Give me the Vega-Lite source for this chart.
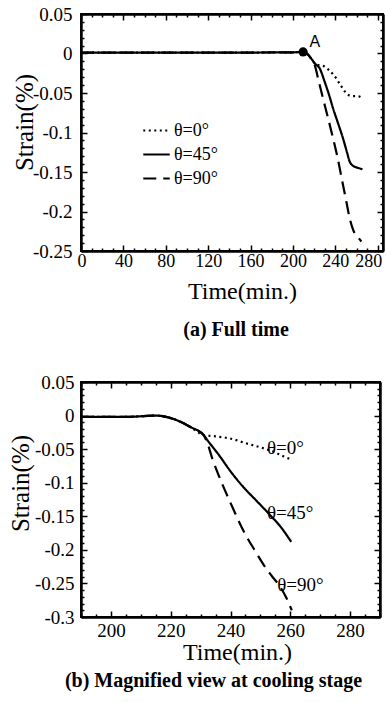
{
  "$schema": "https://vega.github.io/schema/vega-lite/v6.json",
  "background": "white",
  "padding": {"left": 7, "top": 4, "right": 0, "bottom": 0},
  "spacing": 31,
  "datasets": {
    "a": [
      {"series": "θ=0°", "t": 0, "s": 0.001}, {"series": "θ=0°", "t": 100, "s": 0.001}, {"series": "θ=0°", "t": 200, "s": 0.0015}, {"series": "θ=0°", "t": 209.6, "s": 0.002},
      {"series": "θ=0°", "t": 213, "s": 0.0}, {"series": "θ=0°", "t": 217, "s": -0.006}, {"series": "θ=0°", "t": 221, "s": -0.013}, {"series": "θ=0°", "t": 225, "s": -0.015},
      {"series": "θ=0°", "t": 229, "s": -0.016}, {"series": "θ=0°", "t": 234, "s": -0.021}, {"series": "θ=0°", "t": 239, "s": -0.028}, {"series": "θ=0°", "t": 244, "s": -0.038},
      {"series": "θ=0°", "t": 249, "s": -0.048}, {"series": "θ=0°", "t": 253, "s": -0.053}, {"series": "θ=0°", "t": 257, "s": -0.054}, {"series": "θ=0°", "t": 261, "s": -0.054},
      {"series": "θ=0°", "t": 265, "s": -0.056},
      {"series": "θ=45°", "t": 0, "s": 0.001}, {"series": "θ=45°", "t": 100, "s": 0.001}, {"series": "θ=45°", "t": 200, "s": 0.0015}, {"series": "θ=45°", "t": 209.6, "s": 0.002},
      {"series": "θ=45°", "t": 213, "s": 0.0}, {"series": "θ=45°", "t": 217, "s": -0.006}, {"series": "θ=45°", "t": 221, "s": -0.013}, {"series": "θ=45°", "t": 225.3, "s": -0.019},
      {"series": "θ=45°", "t": 230, "s": -0.036}, {"series": "θ=45°", "t": 234, "s": -0.052}, {"series": "θ=45°", "t": 237.9, "s": -0.0696}, {"series": "θ=45°", "t": 242, "s": -0.086},
      {"series": "θ=45°", "t": 247.3, "s": -0.1076}, {"series": "θ=45°", "t": 251, "s": -0.125}, {"series": "θ=45°", "t": 253.6, "s": -0.137}, {"series": "θ=45°", "t": 256, "s": -0.1415},
      {"series": "θ=45°", "t": 258.3, "s": -0.1434}, {"series": "θ=45°", "t": 262, "s": -0.145}, {"series": "θ=45°", "t": 265.6, "s": -0.1465},
      {"series": "θ=90°", "t": 0, "s": 0.001}, {"series": "θ=90°", "t": 100, "s": 0.001}, {"series": "θ=90°", "t": 200, "s": 0.0015}, {"series": "θ=90°", "t": 209.6, "s": 0.002},
      {"series": "θ=90°", "t": 213, "s": 0.0}, {"series": "θ=90°", "t": 217, "s": -0.006}, {"series": "θ=90°", "t": 220.6, "s": -0.0148}, {"series": "θ=90°", "t": 224, "s": -0.033},
      {"series": "θ=90°", "t": 228.4, "s": -0.057}, {"series": "θ=90°", "t": 233, "s": -0.081}, {"series": "θ=90°", "t": 237.9, "s": -0.1076}, {"series": "θ=90°", "t": 242, "s": -0.131},
      {"series": "θ=90°", "t": 247.3, "s": -0.1667}, {"series": "θ=90°", "t": 250.5, "s": -0.188}, {"series": "θ=90°", "t": 253.6, "s": -0.2089}, {"series": "θ=90°", "t": 256, "s": -0.22},
      {"series": "θ=90°", "t": 258.3, "s": -0.2278}, {"series": "θ=90°", "t": 261, "s": -0.232}, {"series": "θ=90°", "t": 264.6, "s": -0.238}
    ],
    "b": [
      {"series": "θ=0°", "t": 190, "s": -0.002}, {"series": "θ=0°", "t": 205, "s": -0.002}, {"series": "θ=0°", "t": 215, "s": 0.0}, {"series": "θ=0°", "t": 218.5, "s": -0.002},
      {"series": "θ=0°", "t": 222.1, "s": -0.007}, {"series": "θ=0°", "t": 226.6, "s": -0.017}, {"series": "θ=0°", "t": 231, "s": -0.029},
      {"series": "θ=0°", "t": 235, "s": -0.031}, {"series": "θ=0°", "t": 239.8, "s": -0.034}, {"series": "θ=0°", "t": 245, "s": -0.041}, {"series": "θ=0°", "t": 251.2, "s": -0.049},
      {"series": "θ=0°", "t": 255, "s": -0.055}, {"series": "θ=0°", "t": 257.9, "s": -0.061}, {"series": "θ=0°", "t": 260.6, "s": -0.066},
      {"series": "θ=45°", "t": 190, "s": -0.002}, {"series": "θ=45°", "t": 205, "s": -0.002}, {"series": "θ=45°", "t": 215, "s": 0.0}, {"series": "θ=45°", "t": 218.5, "s": -0.002},
      {"series": "θ=45°", "t": 222.1, "s": -0.007}, {"series": "θ=45°", "t": 226.6, "s": -0.017}, {"series": "θ=45°", "t": 231, "s": -0.029},
      {"series": "θ=45°", "t": 232.5, "s": -0.038}, {"series": "θ=45°", "t": 236, "s": -0.058}, {"series": "θ=45°", "t": 240, "s": -0.083}, {"series": "θ=45°", "t": 244.4, "s": -0.107},
      {"series": "θ=45°", "t": 248.5, "s": -0.126}, {"series": "θ=45°", "t": 253.2, "s": -0.148}, {"series": "θ=45°", "t": 257, "s": -0.167}, {"series": "θ=45°", "t": 260.3, "s": -0.188},
      {"series": "θ=90°", "t": 190, "s": -0.002}, {"series": "θ=90°", "t": 205, "s": -0.002}, {"series": "θ=90°", "t": 215, "s": 0.0}, {"series": "θ=90°", "t": 218.5, "s": -0.002},
      {"series": "θ=90°", "t": 222.1, "s": -0.007}, {"series": "θ=90°", "t": 226.6, "s": -0.017}, {"series": "θ=90°", "t": 231, "s": -0.029},
      {"series": "θ=90°", "t": 232.1, "s": -0.039}, {"series": "θ=90°", "t": 234, "s": -0.065}, {"series": "θ=90°", "t": 236.5, "s": -0.094}, {"series": "θ=90°", "t": 240, "s": -0.13},
      {"series": "θ=90°", "t": 244.5, "s": -0.173}, {"series": "θ=90°", "t": 248, "s": -0.2}, {"series": "θ=90°", "t": 251.2, "s": -0.223}, {"series": "θ=90°", "t": 254, "s": -0.24},
      {"series": "θ=90°", "t": 256.6, "s": -0.255}, {"series": "θ=90°", "t": 258.5, "s": -0.27}, {"series": "θ=90°", "t": 260.5, "s": -0.29}
    ],
    "pointA": [{"t": 209.6, "s": 0.002}],
    "labelA": [{"t": 220.6, "s": 0.014, "label": "A"}],
    "labelsB": [
      {"t": 252.2, "s": -0.049, "label": "θ=0°"},
      {"t": 252.2, "s": -0.145, "label": "θ=45°"},
      {"t": 255.6, "s": -0.252, "label": "θ=90°"}
    ]
  },
  "resolve": {"legend": {"strokeDash": "independent"}},
  "vconcat": [
    {
      "width": 302,
      "height": 237,
      "title": {"text": "(a) Full time", "orient": "bottom", "frame": "group", "anchor": "middle", "offset": 17, "dx": 4},
      "layer": [
        {
          "data": {"name": "a"},
          "mark": {"type": "line", "color": "black", "strokeWidth": 2.2, "interpolate": "monotone"},
          "encoding": {
            "x": {"field": "t", "type": "quantitative", "scale": {"domain": [0, 285], "nice": false},
              "axis": {"orient": "bottom", "values": [0, 40, 80, 120, 160, 200, 240, 280],
                "format": "d", "tickSize": -6, "labelPadding": 7, "labelFontSize": 18, "labelFlush": 6, "labelFlushOffset": 4,
                "title": "Time(min.)", "titleFontSize": 24, "titlePadding": 9, "titleX": 161}},
            "y": {"field": "s", "type": "quantitative", "scale": {"domain": [-0.25, 0.05], "nice": false},
              "axis": {"orient": "left", "values": [-0.25, -0.2, -0.15, -0.1, -0.05, 0, 0.05],
                "labelExpr": "replace(format(datum.value, '.2~f'), '−', '-')",
                "tickSize": -6, "labelPadding": 15,
                "title": "Strain(%)", "titleFontSize": 25, "titlePadding": -5, "titleY": 108}},
            "strokeDash": {"field": "series", "type": "nominal",
              "scale": {"domain": ["θ=0°", "θ=45°", "θ=90°"], "range": [[2, 3.5], [1, 0], [13, 7]]},
              "legend": {"orient": "none", "legendX": 61, "legendY": 102, "title": null, "symbolType": "stroke", "symbolSize": 700,
                "symbolStrokeWidth": 2, "symbolStrokeColor": "black", "labelFont": "Liberation Serif", "labelFontSize": 18,
                "labelColor": "black", "labelOffset": 3, "rowPadding": 0, "padding": 0}}
          }
        },
        {
          "data": {"name": "pointA"},
          "mark": {"type": "point", "filled": true, "color": "black", "size": 85, "opacity": 1},
          "encoding": {
            "x": {"field": "t", "type": "quantitative", "scale": {"domain": [0, 285], "nice": false},
              "axis": {"orient": "top", "labels": false, "title": null, "values": [0, 40, 80, 120, 160, 200, 240, 280], "tickSize": -6}},
            "y": {"field": "s", "type": "quantitative", "scale": {"domain": [-0.25, 0.05], "nice": false},
              "axis": {"orient": "right", "labels": false, "title": null, "values": [-0.25, -0.2, -0.15, -0.1, -0.05, 0, 0.05], "tickSize": -6}}
          }
        },
        {
          "data": {"name": "labelA"},
          "mark": {"type": "text", "font": "Liberation Sans", "fontSize": 16, "color": "black"},
          "encoding": {
            "x": {"field": "t", "type": "quantitative", "scale": {"domain": [0, 285], "nice": false},
              "axis": {"orient": "bottom", "labels": false, "title": null, "tickSize": -3,
                "values": [10,20,30,50,60,70,90,100,110,130,140,150,170,180,190,210,220,230,250,260,270]}},
            "y": {"field": "s", "type": "quantitative", "scale": {"domain": [-0.25, 0.05], "nice": false},
              "axis": {"orient": "left", "labels": false, "title": null, "tickSize": -3,
                "values": [-0.24,-0.23,-0.22,-0.21,-0.19,-0.18,-0.17,-0.16,-0.14,-0.13,-0.12,-0.11,-0.09,-0.08,-0.07,-0.06,-0.04,-0.03,-0.02,-0.01,0.01,0.02,0.03,0.04]}},
            "text": {"field": "label"}
          }
        },
        {
          "data": {"name": "pointA"},
          "mark": {"type": "point", "opacity": 0},
          "encoding": {
            "x": {"field": "t", "type": "quantitative", "scale": {"domain": [0, 285], "nice": false},
              "axis": {"orient": "top", "labels": false, "title": null, "tickSize": -3,
                "values": [10,20,30,50,60,70,90,100,110,130,140,150,170,180,190,210,220,230,250,260,270]}},
            "y": {"field": "s", "type": "quantitative", "scale": {"domain": [-0.25, 0.05], "nice": false},
              "axis": {"orient": "right", "labels": false, "title": null, "tickSize": -3,
                "values": [-0.24,-0.23,-0.22,-0.21,-0.19,-0.18,-0.17,-0.16,-0.14,-0.13,-0.12,-0.11,-0.09,-0.08,-0.07,-0.06,-0.04,-0.03,-0.02,-0.01,0.01,0.02,0.03,0.04]}}
          }
        }
      ]
    },
    {
      "width": 299,
      "height": 235,
      "title": {"text": "(b)  Magnified  view  at  cooling  stage", "orient": "bottom", "frame": "group", "anchor": "middle", "offset": 7, "dx": -17},
      "layer": [
        {
          "data": {"name": "b"},
          "mark": {"type": "line", "color": "black", "strokeWidth": 2.2, "interpolate": "monotone"},
          "encoding": {
            "x": {"field": "t", "type": "quantitative", "scale": {"domain": [190, 290], "nice": false},
              "axis": {"orient": "bottom", "values": [200, 220, 240, 260, 280], "format": "d",
                "tickSize": -6, "labelPadding": 10,
                "title": "Time(min.)", "titleFontSize": 24, "titlePadding": 0, "titleX": 156}},
            "y": {"field": "s", "type": "quantitative", "scale": {"domain": [-0.3, 0.05], "nice": false},
              "axis": {"orient": "left", "values": [-0.3, -0.25, -0.2, -0.15, -0.1, -0.05, 0, 0.05],
                "labelExpr": "replace(format(datum.value, '.2~f'), '−', '-')",
                "tickSize": -6, "labelPadding": 13,
                "title": "Strain(%)", "titleFontSize": 25, "titlePadding": 1, "titleY": 101}},
            "strokeDash": {"field": "series", "type": "nominal",
              "scale": {"domain": ["θ=0°", "θ=45°", "θ=90°"], "range": [[2, 3.5], [1, 0], [13, 7]]},
              "legend": null}
          }
        },
        {
          "data": {"name": "labelsB"},
          "mark": {"type": "text", "font": "Liberation Serif", "fontSize": 19, "color": "black", "align": "left", "baseline": "middle"},
          "encoding": {
            "x": {"field": "t", "type": "quantitative", "scale": {"domain": [190, 290], "nice": false},
              "axis": {"orient": "top", "labels": false, "title": null, "values": [200, 220, 240, 260, 280], "tickSize": -6}},
            "y": {"field": "s", "type": "quantitative", "scale": {"domain": [-0.3, 0.05], "nice": false},
              "axis": {"orient": "right", "labels": false, "title": null, "values": [-0.3, -0.25, -0.2, -0.15, -0.1, -0.05, 0, 0.05], "tickSize": -6}},
            "text": {"field": "label"}
          }
        },
        {
          "data": {"name": "labelsB"},
          "mark": {"type": "point", "opacity": 0},
          "encoding": {
            "x": {"field": "t", "type": "quantitative", "scale": {"domain": [190, 290], "nice": false},
              "axis": {"orient": "bottom", "labels": false, "title": null, "tickSize": -3,
                "values": [190,195,205,210,215,225,230,235,245,250,255,265,270,275,285,290]}},
            "y": {"field": "s", "type": "quantitative", "scale": {"domain": [-0.3, 0.05], "nice": false},
              "axis": {"orient": "left", "labels": false, "title": null, "tickSize": -3,
                "values": [-0.29,-0.28,-0.27,-0.26,-0.24,-0.23,-0.22,-0.21,-0.19,-0.18,-0.17,-0.16,-0.14,-0.13,-0.12,-0.11,-0.09,-0.08,-0.07,-0.06,-0.04,-0.03,-0.02,-0.01,0.01,0.02,0.03,0.04]}}
          }
        },
        {
          "data": {"name": "labelsB"},
          "mark": {"type": "point", "opacity": 0},
          "encoding": {
            "x": {"field": "t", "type": "quantitative", "scale": {"domain": [190, 290], "nice": false},
              "axis": {"orient": "top", "labels": false, "title": null, "tickSize": -3,
                "values": [190,195,205,210,215,225,230,235,245,250,255,265,270,275,285,290]}},
            "y": {"field": "s", "type": "quantitative", "scale": {"domain": [-0.3, 0.05], "nice": false},
              "axis": {"orient": "right", "labels": false, "title": null, "tickSize": -3,
                "values": [-0.29,-0.28,-0.27,-0.26,-0.24,-0.23,-0.22,-0.21,-0.19,-0.18,-0.17,-0.16,-0.14,-0.13,-0.12,-0.11,-0.09,-0.08,-0.07,-0.06,-0.04,-0.03,-0.02,-0.01,0.01,0.02,0.03,0.04]}}
          }
        }
      ]
    }
  ],
  "config": {
    "view": {"stroke": "black", "strokeWidth": 2},
    "axis": {
      "labelFont": "Liberation Serif", "labelFontSize": 19, "labelColor": "black",
      "titleFont": "Liberation Serif", "titleFontWeight": "normal", "titleColor": "black",
      "domainColor": "black", "domainWidth": 2, "tickColor": "black", "tickWidth": 1.5,
      "grid": false, "labelOverlap": false, "labelFlush": false, "labelBound": false
    },
    "title": {"font": "Liberation Serif", "fontWeight": "bold", "fontSize": 20, "color": "black"}
  }
}
